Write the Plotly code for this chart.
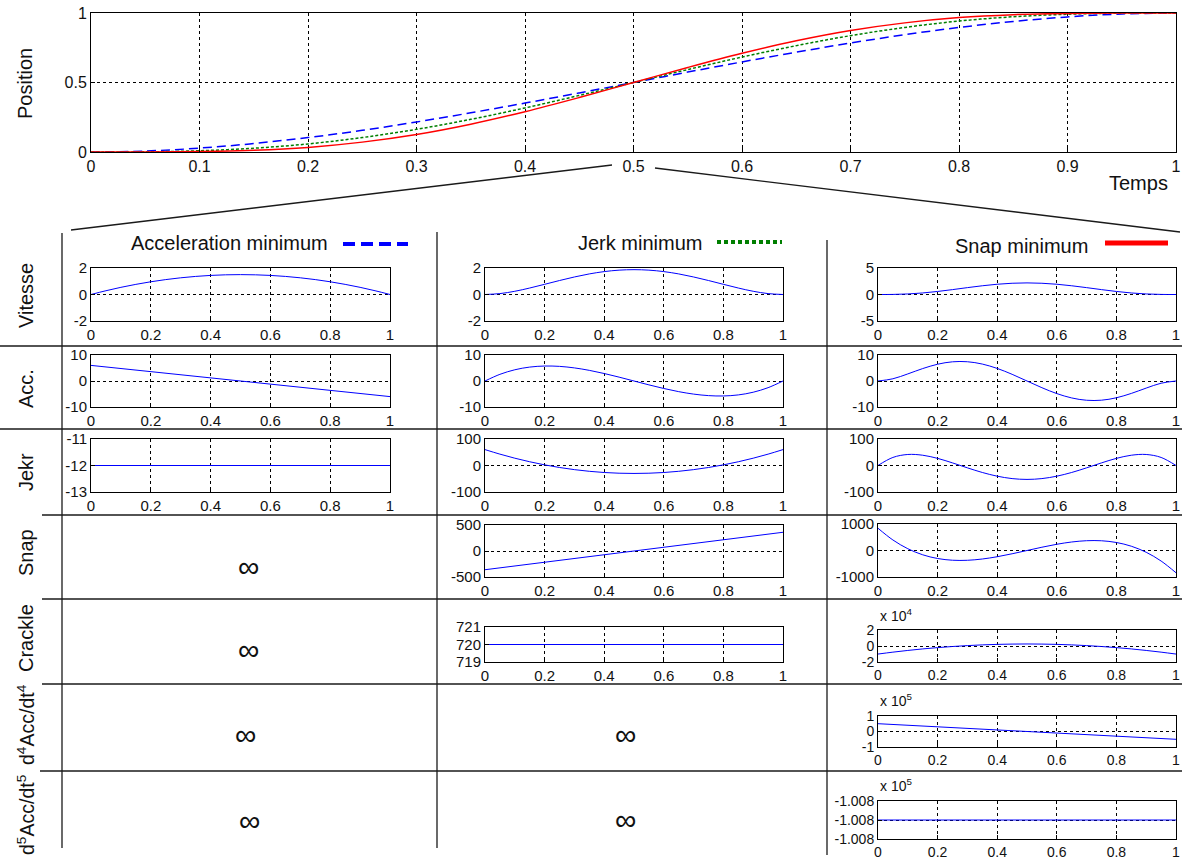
import plotly.graph_objects as go

# ---------------- data ----------------
t = [0, 0.05, 0.1, 0.15, 0.2, 0.25, 0.3, 0.35, 0.4, 0.45, 0.5,
     0.55, 0.6, 0.65, 0.7, 0.75, 0.8, 0.85, 0.9, 0.95, 1]
t_ends = [0, 1]

# top plot: position profiles
pos_acc_min = [0, 0.007, 0.028, 0.061, 0.104, 0.156, 0.216, 0.282, 0.352, 0.425, 0.5,
               0.575, 0.648, 0.718, 0.784, 0.844, 0.896, 0.939, 0.972, 0.993, 1]
pos_jerk_min = [0, 0.001, 0.009, 0.027, 0.058, 0.104, 0.163, 0.235, 0.317, 0.407, 0.5,
                0.593, 0.683, 0.765, 0.837, 0.896, 0.942, 0.973, 0.991, 0.999, 1]
pos_snap_min = [0, 0.0002, 0.003, 0.012, 0.033, 0.071, 0.126, 0.2, 0.29, 0.392, 0.5,
                0.608, 0.71, 0.8, 0.874, 0.929, 0.967, 0.988, 0.997, 0.9998, 1]

# column 1: acceleration minimum
vit_acc_min = [0, 0.285, 0.54, 0.765, 0.96, 1.125, 1.26, 1.365, 1.44, 1.485, 1.5,
               1.485, 1.44, 1.365, 1.26, 1.125, 0.96, 0.765, 0.54, 0.285, 0]
acc_acc_min = [6, 5.4, 4.8, 4.2, 3.6, 3, 2.4, 1.8, 1.2, 0.6, 0,
               -0.6, -1.2, -1.8, -2.4, -3, -3.6, -4.2, -4.8, -5.4, -6]
jerk_acc_min = [-12, -12]

# column 2: jerk minimum
vit_jerk_min = [0, 0.068, 0.243, 0.488, 0.768, 1.055, 1.323, 1.553, 1.728, 1.838, 1.875,
                1.838, 1.728, 1.553, 1.323, 1.055, 0.768, 0.488, 0.243, 0.068, 0]
acc_jerk_min = [0, 2.565, 4.32, 5.355, 5.76, 5.625, 5.04, 4.095, 2.88, 1.485, 0,
                -1.485, -2.88, -4.095, -5.04, -5.625, -5.76, -5.355, -4.32, -2.565, 0]
jerk_jerk_min = [60, 42.9, 27.6, 14.1, 2.4, -7.5, -15.6, -21.9, -26.4, -29.1, -30,
                 -29.1, -26.4, -21.9, -15.6, -7.5, 2.4, 14.1, 27.6, 42.9, 60]
snap_jerk_min = [-360, -324, -288, -252, -216, -180, -144, -108, -72, -36, 0,
                 36, 72, 108, 144, 180, 216, 252, 288, 324, 360]
crackle_jerk_min = [720, 720]

# column 3: snap minimum
vit_snap_min = [0, 0.015, 0.102, 0.29, 0.573, 0.923, 1.297, 1.648, 1.935, 2.123, 2.188,
                2.123, 1.935, 1.648, 1.297, 0.923, 0.573, 0.29, 0.102, 0.015, 0]
acc_snap_min = [0, 0.853, 2.722, 4.779, 6.451, 7.383, 7.409, 6.521, 4.838, 2.573, 0,
                -2.573, -4.838, -6.521, -7.409, -7.383, -6.451, -4.779, -2.722, -0.853, 0]
jerk_snap_min = [0, 30.4, 41.6, 38.8, 26.9, 9.8, -8.8, -26.3, -40.3, -49.4, -52.5,
                 -49.4, -40.3, -26.3, -8.8, 9.8, 26.9, 38.8, 41.6, 30.4, 0]
snap_snap_min = [840, 396.9, 67.2, -161.7, -302.4, -367.5, -369.6, -321.3, -235.2, -123.9, 0,
                 123.9, 235.2, 321.3, 369.6, 367.5, 302.4, 161.7, -67.2, -396.9, -840]
crackle_snap_min = [-10080, -7686, -5544, -3654, -2016, -630, 504, 1386, 2016, 2394, 2520,
                    2394, 2016, 1386, 504, -630, -2016, -3654, -5544, -7686, -10080]
d4_snap_min = [50400, 45360, 40320, 35280, 30240, 25200, 20160, 15120, 10080, 5040, 0,
               -5040, -10080, -15120, -20160, -25200, -30240, -35280, -40320, -45360, -50400]
d5_snap_min = [-100800, -100800]

# tick labels
top_x_ticks = [0, 0.1, 0.2, 0.3, 0.4, 0.5, 0.6, 0.7, 0.8, 0.9, 1]
top_x_labels = ["0", "0.1", "0.2", "0.3", "0.4", "0.5", "0.6", "0.7", "0.8", "0.9", "1"]
top_y_ticks = [0, 0.5, 1]
top_y_labels = ["0", "0.5", "1"]
sub_x_ticks = [0, 0.2, 0.4, 0.6, 0.8, 1]
sub_x_labels = ["0", "0.2", "0.4", "0.6", "0.8", "1"]

col_titles = ["Acceleration minimum", "Jerk minimum", "Snap minimum"]
row_labels = ["Vitesse", "Acc.", "Jekr", "Snap", "Crackle",
              "d<sup>4</sup>Acc/dt<sup>4</sup>", "d<sup>5</sup>Acc/dt<sup>5</sup>"]

# ---------------- figure ----------------
W, H = 1182, 865
FONT = "Liberation Sans, Arial, sans-serif"
BLUE = "#0000FF"
GREEN = "#007F00"
RED = "#FF0000"


def px(x):
    return x / W


def py(y):
    return 1 - y / H


fig = go.Figure()
layout = {}
n_axes = [0]


def add_panel(box, xt, xl, yt, yl, yrange, traces, tick_size=15):
    n_axes[0] += 1
    n = n_axes[0]
    s = "" if n == 1 else str(n)
    x0, y0, x1, y1 = box
    common = dict(showline=True, mirror=True, linecolor="black", linewidth=1,
                  ticks="inside", ticklen=4, tickcolor="black",
                  showgrid=True, gridcolor="black", griddash="3px,3px", gridwidth=1,
                  zeroline=False, fixedrange=True, automargin=False,
                  tickfont=dict(size=tick_size, color="#111111", family=FONT))
    layout["xaxis" + s] = dict(domain=[px(x0), px(x1)], range=[0, 1], tickmode="array",
                               tickvals=xt, ticktext=xl, anchor="y" + s, **common)
    layout["yaxis" + s] = dict(domain=[py(y1), py(y0)], range=yrange, tickmode="array",
                               tickvals=yt, ticktext=yl, anchor="x" + s, **common)
    for x, y, line, shape in traces:
        fig.add_trace(go.Scatter(x=x, y=y, mode="lines", line=dict(shape=shape, **line),
                                 xaxis="x" + s, yaxis="y" + s,
                                 showlegend=False, hoverinfo="skip"))


sub_line = dict(color=BLUE, width=1)

# top plot
add_panel((91, 13, 1176, 152), top_x_ticks, top_x_labels, top_y_ticks, top_y_labels, [0, 1], [
    (t, pos_acc_min, dict(color=BLUE, width=1.5, dash="9px,5px"), "spline"),
    (t, pos_jerk_min, dict(color=GREEN, width=1.5, dash="3px,2px"), "spline"),
    (t, pos_snap_min, dict(color=RED, width=1.5), "spline"),
], tick_size=16)

C1 = (91, 390)
C2 = (485, 783)
C3 = (878, 1176)


def box(c, top, bottom):
    return (c[0], top, c[1], bottom)


scale4 = 1e4
scale5 = 1e5

# column 1
add_panel(box(C1, 268, 321), sub_x_ticks, sub_x_labels, [-2, 0, 2], ["-2", "0", "2"], [-2, 2],
          [(t, vit_acc_min, sub_line, "spline")])
add_panel(box(C1, 355, 407), sub_x_ticks, sub_x_labels, [-10, 0, 10], ["-10", "0", "10"], [-10, 10],
          [(t, acc_acc_min, sub_line, "linear")])
add_panel(box(C1, 439, 492), sub_x_ticks, sub_x_labels, [-13, -12, -11], ["-13", "-12", "-11"], [-13, -11],
          [(t_ends, jerk_acc_min, sub_line, "linear")])

# column 2
add_panel(box(C2, 268, 321), sub_x_ticks, sub_x_labels, [-2, 0, 2], ["-2", "0", "2"], [-2, 2],
          [(t, vit_jerk_min, sub_line, "spline")])
add_panel(box(C2, 355, 407), sub_x_ticks, sub_x_labels, [-10, 0, 10], ["-10", "0", "10"], [-10, 10],
          [(t, acc_jerk_min, sub_line, "spline")])
add_panel(box(C2, 439, 492), sub_x_ticks, sub_x_labels, [-100, 0, 100], ["-100", "0", "100"], [-100, 100],
          [(t, jerk_jerk_min, sub_line, "spline")])
add_panel(box(C2, 525, 577), sub_x_ticks, sub_x_labels, [-500, 0, 500], ["-500", "0", "500"], [-500, 500],
          [(t, snap_jerk_min, sub_line, "linear")])
add_panel(box(C2, 627, 662), sub_x_ticks, sub_x_labels, [719, 720, 721], ["719", "720", "721"], [719, 721],
          [(t_ends, crackle_jerk_min, sub_line, "linear")])

# column 3
add_panel(box(C3, 268, 321), sub_x_ticks, sub_x_labels, [-5, 0, 5], ["-5", "0", "5"], [-5, 5],
          [(t, vit_snap_min, sub_line, "spline")])
add_panel(box(C3, 355, 407), sub_x_ticks, sub_x_labels, [-10, 0, 10], ["-10", "0", "10"], [-10, 10],
          [(t, acc_snap_min, sub_line, "spline")])
add_panel(box(C3, 439, 492), sub_x_ticks, sub_x_labels, [-100, 0, 100], ["-100", "0", "100"], [-100, 100],
          [(t, jerk_snap_min, sub_line, "spline")])
add_panel(box(C3, 524, 577), sub_x_ticks, sub_x_labels, [-1000, 0, 1000], ["-1000", "0", "1000"], [-1000, 1000],
          [(t, snap_snap_min, sub_line, "spline")])
add_panel(box(C3, 630, 662), sub_x_ticks, sub_x_labels, [-2, 0, 2], ["-2", "0", "2"], [-2, 2],
          [(t, [v / scale4 for v in crackle_snap_min], sub_line, "spline")], tick_size=14)
add_panel(box(C3, 716, 747), sub_x_ticks, sub_x_labels, [-1, 0, 1], ["-1", "0", "1"], [-1, 1],
          [(t, [v / scale5 for v in d4_snap_min], sub_line, "linear")], tick_size=14)
add_panel(box(C3, 801, 839), sub_x_ticks, sub_x_labels, [-1.0085, -1.008, -1.0075],
          ["-1.008", "-1.008", "-1.008"], [-1.0085, -1.0075],
          [(t_ends, [v / scale5 for v in d5_snap_min], sub_line, "linear")], tick_size=14)

# ---------------- decorations ----------------
shapes = []
LC = "#1a1a1a"


def seg(x0, y0, x1, y1, color=LC, width=1.3, dash=None):
    d = dict(type="line", xref="paper", yref="paper",
             x0=px(x0), y0=py(y0), x1=px(x1), y1=py(y1),
             line=dict(color=color, width=width))
    if dash:
        d["line"]["dash"] = dash
    shapes.append(d)


# zoom lines from the 0.5 tick
seg(71, 230, 612, 165)
seg(655, 168, 1180, 232)

# table grid
for y, xs in [(346, 0), (429, 0), (515, 42), (599, 42), (684, 42), (771, 40)]:
    seg(xs, y, 1182, y)
seg(62, 233, 62, 848)
seg(437, 232, 437, 848)
seg(827, 240, 827, 855)

# legend samples
seg(343, 244, 408, 244, color=BLUE, width=4, dash="12px,6px")
seg(717, 242, 782, 242, color=GREEN, width=4, dash="4px,3px")
seg(1105, 243, 1168, 243, color=RED, width=5)

annotations = []


def txt(x, y, text, size=20, angle=0, xanchor="center", yanchor="middle"):
    annotations.append(dict(x=px(x), y=py(y), xref="paper", yref="paper",
                            text=text, showarrow=False, textangle=angle,
                            xanchor=xanchor, yanchor=yanchor,
                            font=dict(size=size, color="#111111", family=FONT)))


txt(25, 84, "Position", angle=-90)
txt(1170, 183, "Temps", xanchor="right")

txt(229, 243, col_titles[0])
txt(640, 243, col_titles[1])
txt(1021, 246, col_titles[2])

for y, lab in zip([296, 389, 472, 553, 638, 725, 815], row_labels):
    txt(26, y, lab, angle=-90, size=19.5 if "sup" in lab else 20)

for x, y in [(248, 566), (248, 649), (245, 734), (249, 820), (625, 734), (625, 819)]:
    txt(x, y, "∞", size=30)

txt(878, 615, "x 10<sup>4</sup>", size=14, xanchor="left")
txt(878, 700, "x 10<sup>5</sup>", size=14, xanchor="left")
txt(878, 785, "x 10<sup>5</sup>", size=14, xanchor="left")

fig.update_layout(
    width=W, height=H, autosize=False,
    margin=dict(l=0, r=0, t=0, b=0, pad=0, autoexpand=False),
    paper_bgcolor="white", plot_bgcolor="white",
    font=dict(family=FONT, color="black"),
    shapes=shapes, annotations=annotations,
    showlegend=False,
    **layout,
)

fig.write_html("out.html", config={"responsive": False, "displayModeBar": False},
               post_script="document.body.style.margin='0';document.body.style.overflow='hidden';")
